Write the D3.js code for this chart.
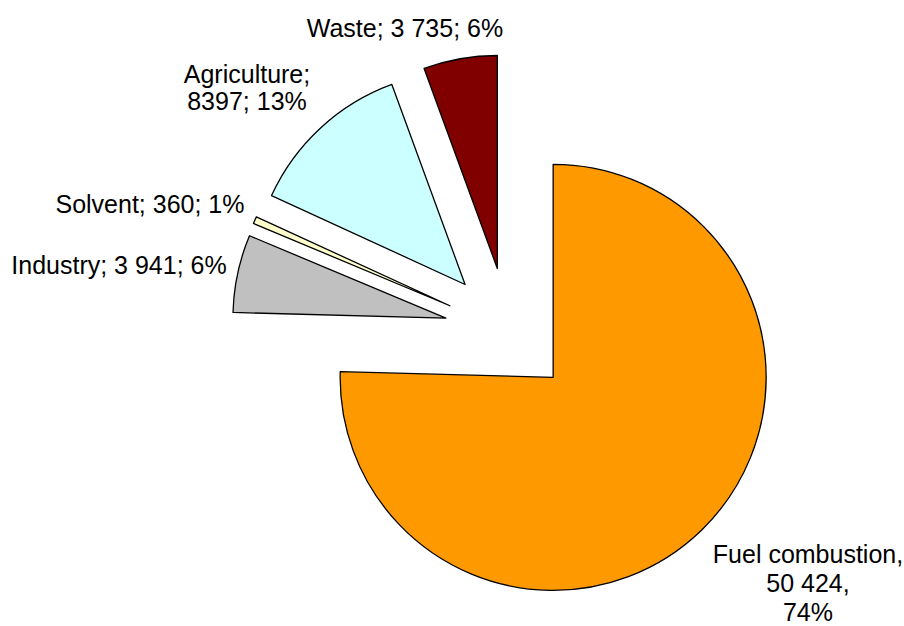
<!DOCTYPE html>
<html>
<head>
<meta charset="utf-8">
<script src="https://cdn.jsdelivr.net/npm/d3@7"></script>
<style>
  body { margin: 0; background: #fff; }
  text { font-family: "Liberation Sans", Arial, sans-serif; font-size: 25px; fill: #000; }
</style>
</head>
<body>
<svg width="904" height="626"></svg>
<script>
// data, in the order Excel draws them (clockwise from 12 o'clock)
var categories = ["Fuel combustion", "Industry", "Solvent", "Agriculture", "Waste"];
var values = [50424, 3941, 360, 8397, 3735];
var labelLines = [
    ["Fuel combustion,", "50 424,", "74%"],
    ["Industry; 3 941; 6%"],
    ["Solvent; 360; 1%"],
    ["Agriculture;", "8397; 13%"],
    ["Waste; 3 735; 6%"]
];
var colors = ["#FF9900", "#C0C0C0", "#FFFFCC", "#CCFFFF", "#800000"];

// label placement (centre x, first baseline y, line step)
var labelLayout = [
    {x: 808, y: 563, step: 29},
    {x: 119, y: 274, step: 0},
    {x: 150, y: 213, step: 0},
    {x: 247, y: 83, step: 27},
    {x: 405, y: 37, step: 0}
];

var svg = d3.select("svg"),
    width = +svg.attr("width"),
    height = +svg.attr("height");

var cx = 508.5, cy = 331.5;
var radius = 213;
var explode = 64;

var pie = d3.pie()
    .sort(null)
    .value(function (d) { return d; });

var arc = d3.arc()
    .innerRadius(0)
    .outerRadius(radius);

var arcs = pie(values);

var g = svg.append("g")
    .attr("transform", "translate(" + cx + "," + cy + ")");

g.selectAll("path")
    .data(arcs)
    .enter().append("path")
    .attr("d", arc)
    .attr("transform", function (d) {
        var a = (d.startAngle + d.endAngle) / 2;
        return "translate(" + (Math.sin(a) * explode) + "," + (-Math.cos(a) * explode) + ")";
    })
    .style("fill", function (d, i) { return colors[i]; })
    .style("stroke", "#000")
    .style("stroke-width", 1.3)
    .style("stroke-linejoin", "round");

// labels
var labels = svg.append("g").selectAll("text")
    .data(labelLines)
    .enter().append("text")
    .attr("text-anchor", "middle")
    .attr("x", function (d, i) { return labelLayout[i].x; })
    .attr("y", function (d, i) { return labelLayout[i].y; });

labels.each(function (lines, i) {
    var t = d3.select(this);
    lines.forEach(function (line, j) {
        t.append("tspan")
            .attr("x", labelLayout[i].x)
            .attr("y", labelLayout[i].y + j * labelLayout[i].step)
            .text(line);
    });
});
</script>
</body>
</html>
